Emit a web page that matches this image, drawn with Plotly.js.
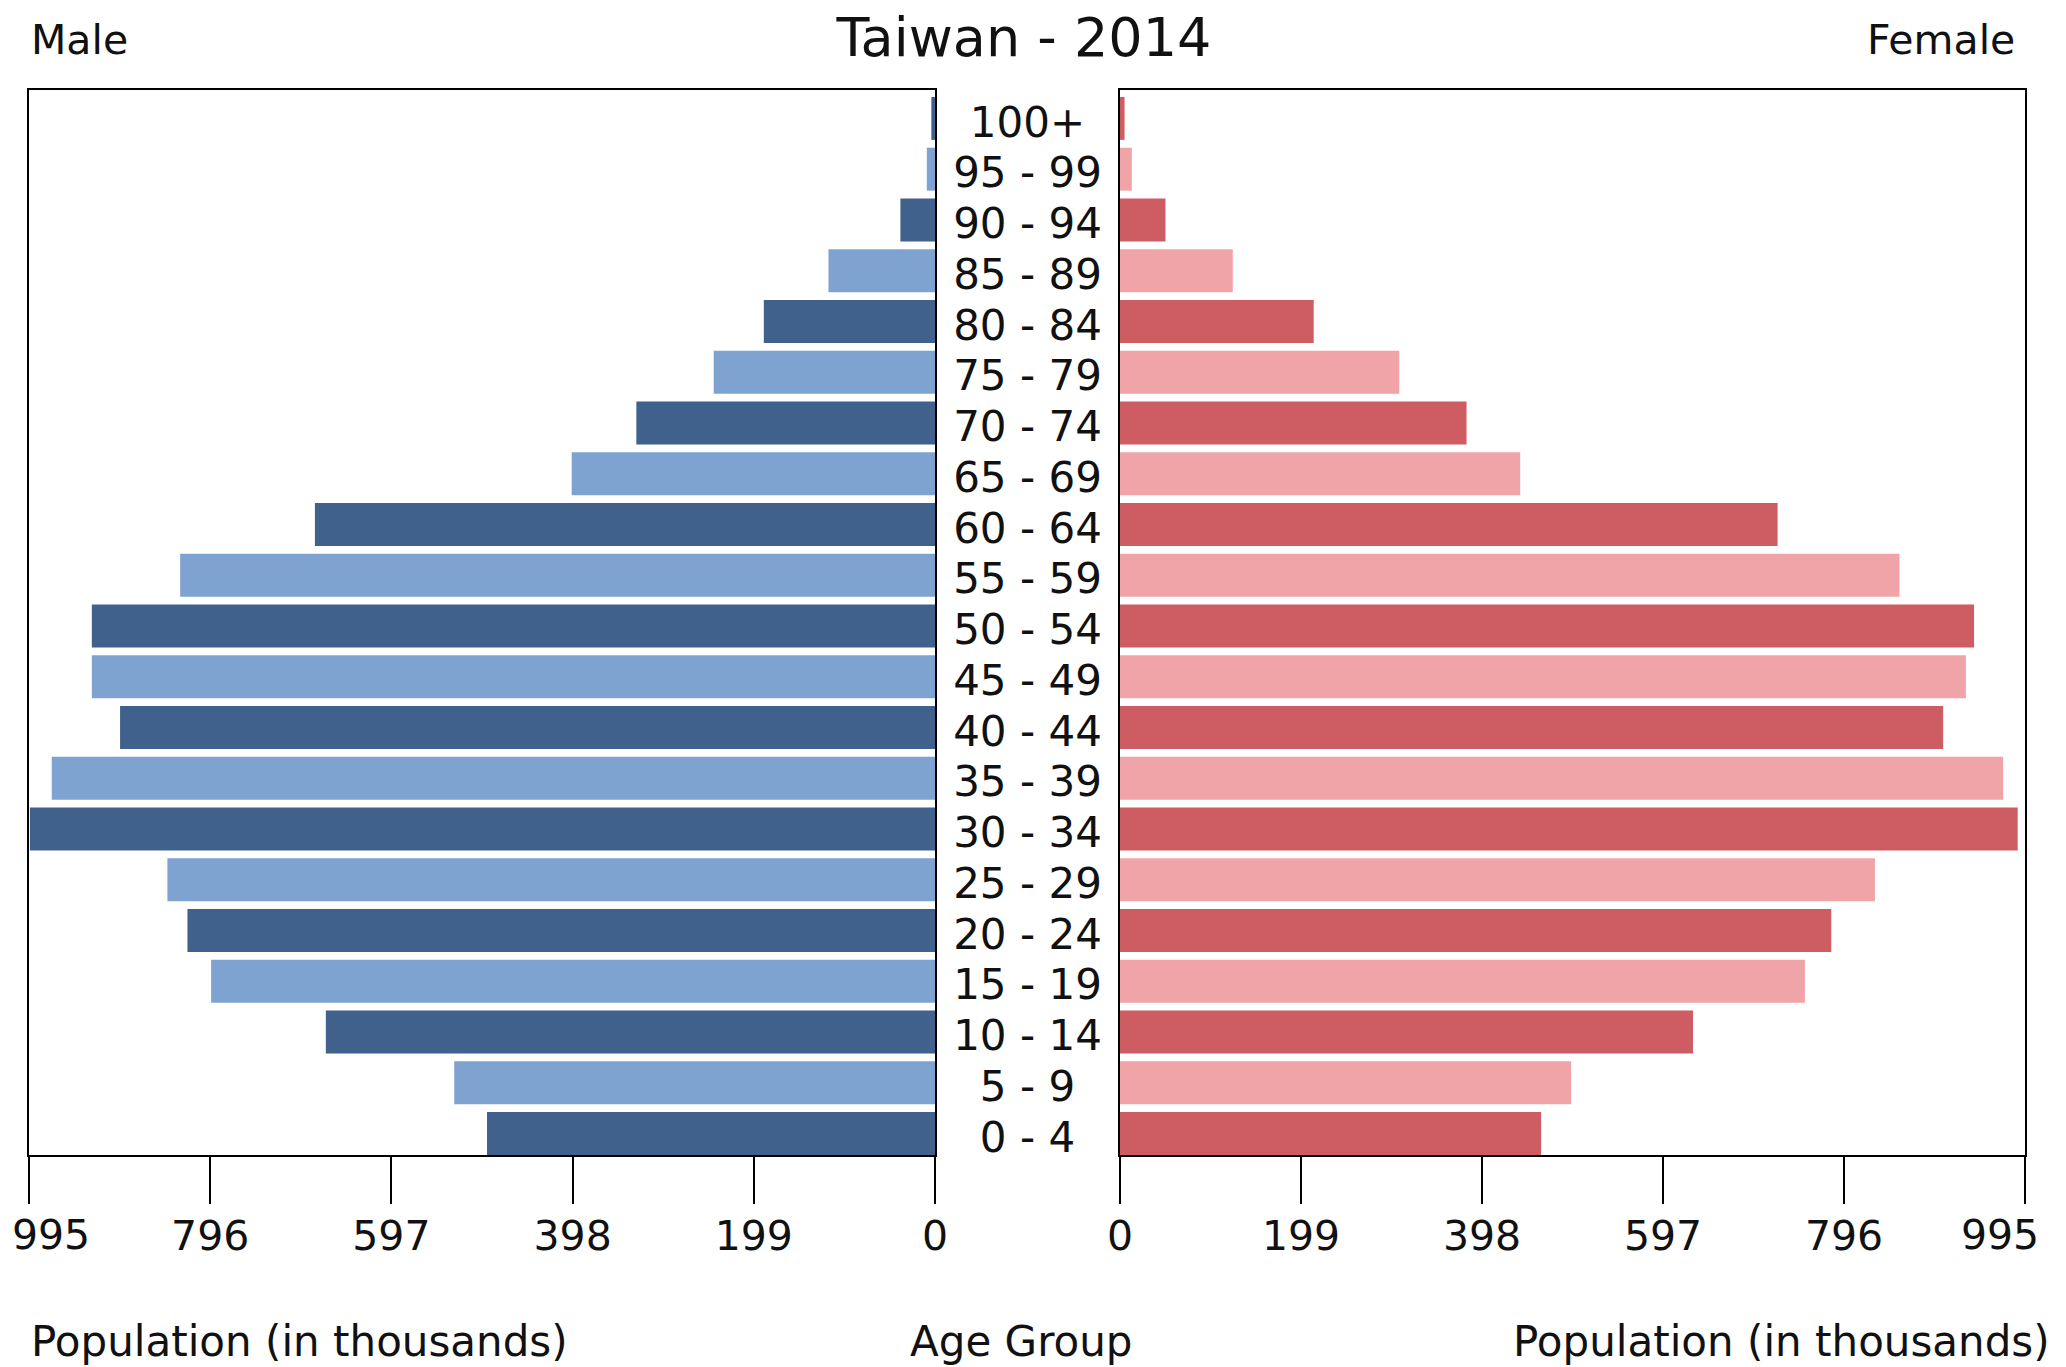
<!DOCTYPE html>
<html>
<head>
<meta charset="utf-8">
<script src="https://cdn.plot.ly/plotly-3.0.1.min.js"></script>
<style>html,body{margin:0;padding:0;background:#fff;}#chart{width:2066px;height:1367px;}</style>
</head>
<body>
<div id="chart"></div>
<script>
const ageGroups = ["0 - 4","5 - 9","10 - 14","15 - 19","20 - 24","25 - 29","30 - 34","35 - 39","40 - 44","45 - 49","50 - 54","55 - 59","60 - 64","65 - 69","70 - 74","75 - 79","80 - 84","85 - 89","90 - 94","95 - 99","100+"];
const male   = [492, 528, 669, 795, 821, 843, 994, 970, 895, 926, 926, 829, 681, 399, 328, 243, 188, 117, 38, 9, 4];
const female = [463, 496, 630, 753, 782, 830, 987, 971, 905, 930, 939, 857, 723, 440, 381, 307, 213, 124, 50, 13, 5];
const tickValues = [0, 199, 398, 597, 796, 995];
const tickLabels = ["0", "199", "398", "597", "796", "995"];
const maleColors   = ["#40618c", "#7fa3d0"];
const femaleColors = ["#cd5d63", "#f0a4a8"];

const W = 2066, H = 1367;
const FONT = "DejaVu Sans, sans-serif";
const leftDom  = [29/W, 935/W];
const midDom   = [935/W, 1120/W];
const rightDom = [1120/W, 2025/W];
const yDom = [(H-1155)/H, (H-90)/H];
const yRange = [-0.423, 20.56];
const labelShift = 0.15;

// the outermost label (995) is drawn on an overlay axis so it can be nudged inward like the original
const innerText = tickLabels.map((t, i) => i === tickLabels.length - 1 ? "" : t);
const edgeVal = [tickValues[tickValues.length - 1]];
const edgeText = [tickLabels[tickLabels.length - 1]];

const traces = [
  {type:"bar", orientation:"h", x: male, y: ageGroups, xaxis:"x", yaxis:"y",
   marker:{color: ageGroups.map((_, i) => maleColors[i % 2]), line:{width:0}}, hoverinfo:"x+y", name:"Male"},
  {type:"bar", orientation:"h", x: female, y: ageGroups, xaxis:"x2", yaxis:"y2",
   marker:{color: ageGroups.map((_, i) => femaleColors[i % 2]), line:{width:0}}, hoverinfo:"x+y", name:"Female"},
  {type:"scatter", mode:"text", x: ageGroups.map(() => 0.5), y: ageGroups, xaxis:"x3", yaxis:"y3",
   text: ageGroups, textposition:"middle center", textfont:{family:FONT, size:42, color:"#111"}, hoverinfo:"skip", name:"Age"},
  {type:"scatter", mode:"none", x: edgeVal, y: [ageGroups[0]], xaxis:"x4", yaxis:"y", hoverinfo:"skip", showlegend:false},
  {type:"scatter", mode:"none", x: edgeVal, y: [ageGroups[0]], xaxis:"x5", yaxis:"y2", hoverinfo:"skip", showlegend:false}
];

const tickFont = {family:FONT, size:41, color:"#111"};
const xCommon = {
  tickmode:"array", tickvals: tickValues, ticktext: innerText,
  ticks:"outside", ticklen:47, tickwidth:2, tickcolor:"#000",
  showline:true, linecolor:"#000", linewidth:2, mirror:true,
  showgrid:false, zeroline:false, fixedrange:true,
  tickfont: tickFont, ticklabelstandoff:-3
};
const xEdge = {
  tickmode:"array", tickvals: edgeVal, ticktext: edgeText,
  ticks:"outside", ticklen:47, tickwidth:1, tickcolor:"rgba(0,0,0,0)",
  showline:false, showgrid:false, zeroline:false, fixedrange:true,
  tickfont: tickFont, ticklabelstandoff:-3, side:"bottom", ticklabeloverflow:"allow"
};
const yCommon = {
  type:"category", range: yRange, showticklabels:false, ticks:"",
  showline:true, linecolor:"#000", linewidth:2, mirror:true,
  showgrid:false, zeroline:false, fixedrange:true, domain: yDom
};

const layout = {
  width: W, height: H,
  margin:{l:0, r:0, t:0, b:0},
  paper_bgcolor:"#fff", plot_bgcolor:"#fff",
  showlegend:false,
  bargap: 0.154,
  font:{family:FONT, color:"#111"},
  title:{text:"Taiwan - 2014", x:1024/W, xanchor:"center", y:1-37/H, yanchor:"middle", font:{family:FONT, size:54, color:"#111"}},
  xaxis: Object.assign({}, xCommon, {domain:leftDom, range:[995, 0], anchor:"y"}),
  yaxis: Object.assign({}, yCommon, {anchor:"x"}),
  xaxis2: Object.assign({}, xCommon, {domain:rightDom, range:[0, 995], anchor:"y2"}),
  yaxis2: Object.assign({}, yCommon, {anchor:"x2"}),
  xaxis3: {domain:midDom, range:[0,1], visible:false, fixedrange:true, anchor:"y3"},
  yaxis3: Object.assign({}, yCommon, {anchor:"x3", showline:false, visible:false, range:[yRange[0]+labelShift, yRange[1]+labelShift]}),
  xaxis4: Object.assign({}, xEdge, {overlaying:"x", range:[995, 0], anchor:"y", ticklabelshift:-22}),
  xaxis5: Object.assign({}, xEdge, {overlaying:"x2", range:[0, 995], anchor:"y2", ticklabelshift:-25}),
  annotations:[
    {text:"Male", xref:"paper", yref:"paper", x:29/W, y:1-40/H, xanchor:"left", yanchor:"middle", showarrow:false, font:{family:FONT, size:41, color:"#111"}},
    {text:"Female", xref:"paper", yref:"paper", x:2017/W, y:1-40/H, xanchor:"right", yanchor:"middle", showarrow:false, font:{family:FONT, size:41, color:"#111"}},
    {text:"Population (in thousands)", xref:"paper", yref:"paper", x:29/W, y:1-1341/H, xanchor:"left", yanchor:"middle", showarrow:false, font:{family:FONT, size:42, color:"#111"}},
    {text:"Age Group", xref:"paper", yref:"paper", x:1021/W, y:1-1341/H, xanchor:"center", yanchor:"middle", showarrow:false, font:{family:FONT, size:42, color:"#111"}},
    {text:"Population (in thousands)", xref:"paper", yref:"paper", x:2052/W, y:1-1341/H, xanchor:"right", yanchor:"middle", showarrow:false, font:{family:FONT, size:42, color:"#111"}}
  ]
};

Plotly.newPlot("chart", traces, layout, {staticPlot:true, displayModeBar:false});
</script>
</body>
</html>
